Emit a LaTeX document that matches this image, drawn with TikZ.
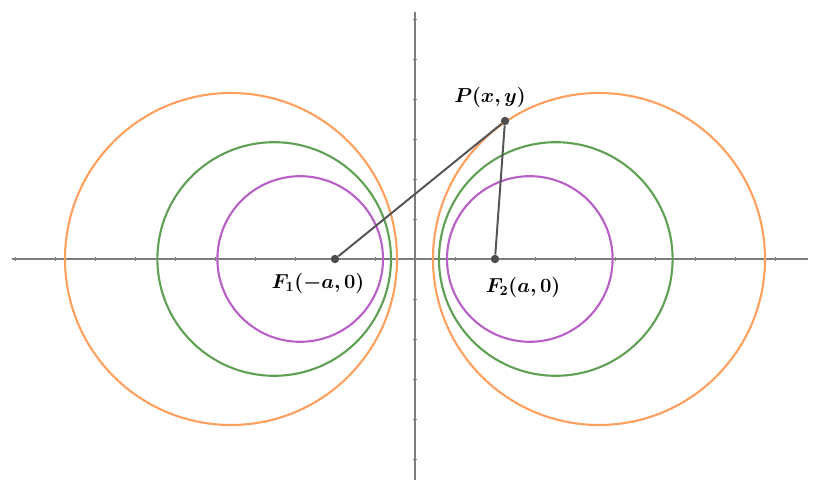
\documentclass[tikz,border=0pt]{standalone}
\usepackage{amsmath,bm}
\usetikzlibrary{positioning}
\definecolor{axgray}{RGB}{125,125,125}
\definecolor{segdark}{RGB}{85,85,85}
\definecolor{ggorange}{RGB}{255,160,95}
\definecolor{gggreen}{RGB}{95,160,85}
\definecolor{ggpurple}{RGB}{185,95,200}
\tikzset{
    axis/.style={draw=axgray,line width=1.1pt},
    tick/.style={draw=axgray,line width=0.6pt},
    ring/.style={draw=#1,line width=1.5pt},
    ring/.default=ggorange,
    seg/.style={draw=segdark,line width=1.4pt},
    dot/.style={
        circle,fill=segdark!90!black,inner sep=0pt,minimum size=6pt
    },
    lbl/.style={font=\Large,text=black,inner sep=1pt}
}

\begin{document}
\begin{tikzpicture}

\useasboundingbox (-10.375,-5.575) rectangle (10.075,6.475);

% axes
\draw[axis] (-10.08,0)--(9.83,0);
\draw[axis] (0,-5.53)--(0,6.18);
\foreach \i in {-10,...,9}{
    \draw[tick] (\i,-0.06)--(\i,0.06);
}
\foreach \j in {-5,...,6}{
    \draw[tick] (-0.06,\j)--(0.06,\j);
}

% circles
\draw[ring=ggorange] (-4.6,0) circle (4.15);
\draw[ring=ggorange] (4.6,0) circle (4.15);
\draw[ring=gggreen] (-3.52,0) circle (2.92);
\draw[ring=gggreen] (3.52,0) circle (2.92);
\draw[ring=ggpurple] (-2.87,0) circle (2.07);
\draw[ring=ggpurple] (2.87,0) circle (2.07);

% points
\node[dot] (f1) at (-2,0) {};
\node[dot] (f2) at (2,0) {};
\node[dot] (p) at (2.25,3.45) {};

\draw[seg] (f1)--(p)--(f2);

\node[lbl] (f1lbl) at (-2.425,-0.62) {$\boldsymbol{F_1(-a,0)}$};
\node[lbl] (f2lbl) at (2.7,-0.7) {$\boldsymbol{F_2(a,0)}$};
\node[lbl] (plbl) at (1.875,4.05) {$\boldsymbol{P(x,y)}$};

\end{tikzpicture}
\end{document}
